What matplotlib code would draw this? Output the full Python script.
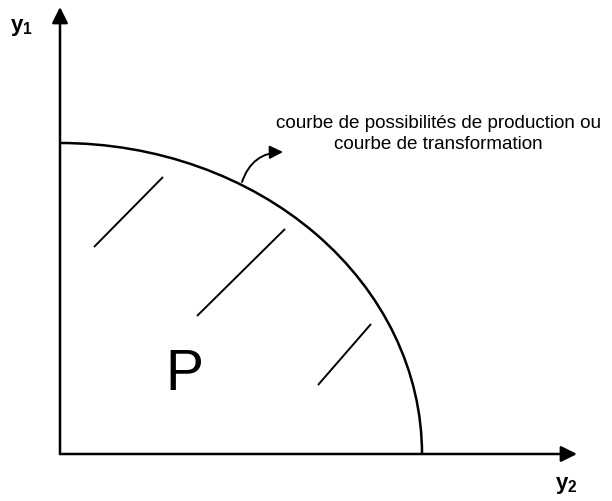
# -*- coding:utf-8 -*-
"""
Frontière des possibilités de production (schéma)
"""
from matplotlib import pyplot as plt
from matplotlib.patches import Arc, FancyArrowPatch

plt.rcParams['font.family'] = ['Liberation Sans', 'DejaVu Sans']
plt.rcParams['mathtext.fontset'] = 'custom'
plt.rcParams['mathtext.rm'] = 'Liberation Sans'
plt.rcParams['mathtext.bf'] = 'Liberation Sans:bold'

# axes (origine en 0,0)
x_axis_end = 517
y_axis_end = 447

# courbe : quart d'ellipse
curve_x_max = 362   # intersection avec l'axe y2
curve_y_max = 311   # intersection avec l'axe y1

# hachures dans l'ensemble P
hatch_x0 = [34, 137, 258]
hatch_y0 = [207, 138, 69]
hatch_x1 = [103, 225, 311]
hatch_y1 = [277, 225, 130]

arrow_start = (182, 272)
arrow_end = (223, 302)

label_text = "courbe de possibilités de production ou\ncourbe de transformation"

fig = plt.figure(figsize=(6.12, 5.02), dpi=100)
ax = fig.add_axes([0, 0, 1, 1])
ax.set_xlim(-60, 552)
ax.set_ylim(-47, 455)
ax.axis('off')

# axes avec flèches
ax.annotate('', xy=(x_axis_end, 0), xytext=(0, 0),
            arrowprops=dict(arrowstyle='-|>', color='black', lw=1.8,
                            mutation_scale=24, shrinkA=0, shrinkB=0))
ax.annotate('', xy=(0, y_axis_end), xytext=(0, 0),
            arrowprops=dict(arrowstyle='-|>', color='black', lw=1.8,
                            mutation_scale=24, shrinkA=0, shrinkB=0))

# frontière
ax.add_patch(Arc((0, 0), 2 * curve_x_max, 2 * curve_y_max, theta1=0, theta2=90,
                 color='black', lw=1.8))

# hachures
for xa, ya, xb, yb in zip(hatch_x0, hatch_y0, hatch_x1, hatch_y1):
    ax.plot([xa, xb], [ya, yb], color='black', lw=1.4, solid_capstyle='butt')

# flèche courbe vers le texte
ax.add_patch(FancyArrowPatch(arrow_start, arrow_end, connectionstyle='arc3,rad=-0.35',
                             arrowstyle='-|>', mutation_scale=20, color='black', lw=1.4,
                             shrinkA=0, shrinkB=0))

ax.text(378, 321, label_text, ha='center', va='center', fontsize=13.6,
        linespacing=1.32)
ax.text(124, 80, 'P', ha='center', va='center', fontsize=41)

ax.text(-39, 427, r'$\mathbf{y_1}$', ha='center', va='center', fontsize=16)
ax.text(506, -31, r'$\mathbf{y_2}$', ha='center', va='center', fontsize=16)

plt.savefig('out.png', dpi=100)
